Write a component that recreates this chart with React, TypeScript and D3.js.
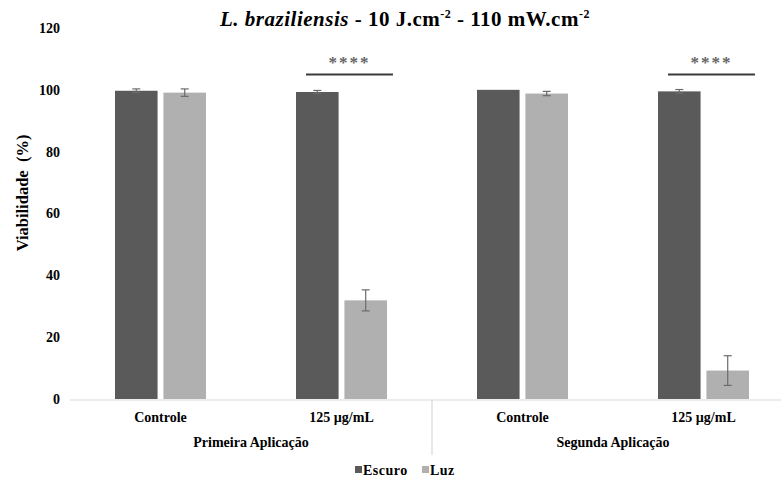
import React, { useEffect, useRef } from 'react'
import * as d3 from 'd3'

const categories = ['Controle', '125 µg/mL', 'Controle', '125 µg/mL']
const groups = ['Primeira Aplicação', 'Segunda Aplicação']
const series = ['Escuro', 'Luz']
const escuro = [99.7, 99.3, 100, 99.5]
const escuroErr = [0.6, 0.5, 0, 0.6]
const luz = [99.1, 31.9, 98.8, 9.2]
const luzErr = [1.2, 3.4, 0.7, 4.8]
const yTicks = [0, 20, 40, 60, 80, 100, 120]
const signif = [1, 3]

const colors = ['#5a5a5a', '#b0b0b0']
const serif = 'Liberation Serif'

export default function App() {
  const ref = useRef<SVGSVGElement>(null)

  useEffect(() => {
    const width = 781
    const height = 482
    const left = 70
    const bandW = 181

    const svg = d3.select(ref.current!)
    svg.selectAll('*').remove()
    svg.attr('width', width).attr('height', height)

    const x = d3.scaleBand<number>()
      .domain(d3.range(categories.length))
      .range([left, left + bandW * categories.length])
    const inner = d3.scaleBand<string>()
      .domain(series)
      .range([45, bandW - 45])
      .paddingInner(11 / 91)
    const y = d3.scaleLinear().domain([0, 120]).range([399, 28])

    const values = [escuro, luz]
    const errs = [escuroErr, luzErr]

    const label = (sel: d3.Selection<any, any, any, any>, size: number) => sel
      .attr('font-family', serif)
      .attr('font-weight', 'bold')
      .attr('font-size', size)

    // title
    const title = svg.append('text').attr('x', 405).attr('y', 26).attr('text-anchor', 'middle')
      .attr('letter-spacing', 0.5)
      .call(label, 21)
    title.append('tspan').attr('font-style', 'italic').text('L. braziliensis')
    title.append('tspan').text(' - 10 J.cm')
    title.append('tspan').attr('font-size', 12).attr('dy', -8).text('-2')
    title.append('tspan').attr('dy', 8).text(' - 110 mW.cm')
    title.append('tspan').attr('font-size', 12).attr('dy', -8).text('-2')

    // y ticks, no axis line
    svg.append('g').selectAll('text').data(yTicks).join('text')
      .attr('x', 60).attr('y', d => y(d)).attr('dy', '0.35em').attr('text-anchor', 'end')
      .call(label, 14)
      .text(d => d)

    svg.append('text')
      .attr('transform', 'translate(28,193) rotate(-90)')
      .attr('text-anchor', 'middle')
      .call(label, 16.5)
      .text('Viabilidade\u00a0\u00a0(%)')

    // bars + error bars
    series.forEach((s, k) => {
      const g = svg.append('g')
      g.selectAll('rect').data(values[k]).join('rect')
        .attr('x', (_, i) => x(i)! + inner(s)!)
        .attr('y', d => y(d))
        .attr('width', inner.bandwidth())
        .attr('height', d => y(0) - y(d))
        .attr('fill', colors[k])

      const eg = g.append('g').attr('stroke', '#6b6b6b').attr('stroke-width', 1.2)
      values[k].forEach((v, i) => {
        const e = errs[k][i]
        if (e <= 0) return
        const cx = x(i)! + inner(s)! + inner.bandwidth() / 2
        eg.append('line').attr('x1', cx).attr('x2', cx).attr('y1', y(v + e)).attr('y2', y(v - e))
        eg.append('line').attr('x1', cx - 4).attr('x2', cx + 4).attr('y1', y(v + e)).attr('y2', y(v + e))
        eg.append('line').attr('x1', cx - 4).attr('x2', cx + 4).attr('y1', y(v - e)).attr('y2', y(v - e))
      })
    })

    // x axis
    svg.append('line').attr('x1', left).attr('x2', width).attr('y1', 400).attr('y2', 400)
      .attr('stroke', '#d9d9d9').attr('stroke-width', 1.2)
    svg.append('line').attr('x1', x(2)!).attr('x2', x(2)!).attr('y1', 400).attr('y2', 455)
      .attr('stroke', '#d9d9d9').attr('stroke-width', 1.2)

    svg.append('g').selectAll('text').data(categories).join('text')
      .attr('x', (_, i) => x(i)! + bandW / 2).attr('y', 422).attr('text-anchor', 'middle')
      .call(label, 14)
      .text(d => d)

    svg.append('g').selectAll('text').data(groups).join('text')
      .attr('x', (_, j) => x(j * 2)! + bandW).attr('y', 447).attr('text-anchor', 'middle')
      .call(label, 14)
      .text(d => d)

    // significance
    signif.forEach(i => {
      const x1 = x(i)! + 55
      const x2 = x(i)! + bandW - 39
      svg.append('line').attr('x1', x1).attr('x2', x2).attr('y1', 74.5).attr('y2', 74.5)
        .attr('stroke', '#3a3a3a').attr('stroke-width', 1.8)
      svg.append('text').attr('x', (x1 + x2) / 2).attr('y', 68).attr('text-anchor', 'middle')
        .attr('font-family', serif).attr('font-weight', 'bold').attr('font-size', 17)
        .attr('letter-spacing', 2).attr('fill', '#666')
        .text('****')
    })

    // legend
    const lg = svg.append('g').attr('transform', 'translate(355,470)')
    series.forEach((s, k) => {
      const item = lg.append('g').attr('transform', `translate(${k * 67},0)`)
      item.append('rect').attr('x', 0).attr('y', -4).attr('width', 7).attr('height', 7).attr('fill', colors[k])
      item.append('text').attr('x', 8).attr('dy', '0.35em').attr('letter-spacing', 0.5).call(label, 14).text(s)
    })
  }, [])

  return (
    <div>
      <svg ref={ref} style={{ position: 'absolute', left: 0, top: 0, background: '#fff' }}></svg>
    </div>
  )
}
